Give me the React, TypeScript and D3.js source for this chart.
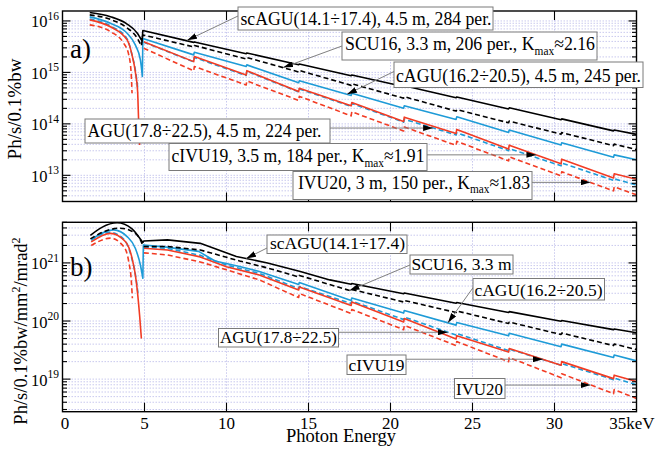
import React from 'react';
import * as d3 from 'd3';

type Pt = [number, number];

// photon energy axis (keV)
const xTicks = [0, 5, 10, 15, 20, 25, 30];
const xEndLabel = '35keV';
const xTitle = 'Photon Energy';

// ---- panel a) spectral flux, Ph/s/0.1%bw ----
const fluxDomain: [number, number] = [3.1e12, 1.56e16];
const fluxDecades = [13, 14, 15, 16];
const fluxTitle = 'Ph/s/0.1%bw';

const scaguFluxLow: Pt[] = [[1.66, 1.46e16], [2.92, 1.21e16], [3.94, 8.7e15], [4.55, 5.85e15], [4.85, 4.1e15]];
const scaguFluxHigh: Pt[] = [[4.9, 6.5e15], [8.0, 3.83e15], [8.04, 3.91e15], [11.2, 2.31e15], [11.24, 2.39e15], [14.4, 1.41e15], [14.44, 1.46e15], [17.6, 8.6e14], [17.64, 8.9e14], [20.8, 5.3e14], [20.84, 5.5e14], [24.0, 3.23e14], [24.04, 3.34e14], [27.2, 1.95e14], [27.24, 2.05e14], [30.4, 1.2e14], [30.44, 1.25e14], [33.6, 7.3e13], [33.64, 7.6e13], [35, 6.25e13]];

const scu16FluxLow: Pt[] = [[1.66, 1.31e16], [2.92, 1.07e16], [3.94, 7.3e15], [4.55, 4.68e15], [4.81, 3.27e15]];
const scu16FluxHigh: Pt[] = [[4.9, 5.35e15], [8.0, 3.13e15], [8.04, 3.34e15], [11.2, 1.83e15], [11.24, 1.95e15], [14.4, 1.02e15], [14.44, 1.09e15], [17.6, 5.6e14], [17.64, 6.0e14], [20.8, 3.16e14], [20.84, 3.37e14], [24.0, 1.77e14], [24.04, 1.89e14], [27.2, 1.05e14], [27.24, 1.13e14], [30.4, 6.3e13], [30.44, 6.75e13], [33.6, 3.78e13], [33.64, 4.04e13], [35, 3.16e13]];

const caguFluxLow: Pt[] = [[1.66, 1.2e16], [2.92, 9.0e15], [3.94, 5.77e15], [4.44, 3.42e15], [4.75, 1.75e15], [4.87, 8.3e14]];
const caguFluxHigh: Pt[] = [[4.9, 4.57e15], [8.0, 2.19e15], [8.04, 2.47e15], [11.2, 1.3e15], [11.24, 1.4e15], [14.4, 6.3e14], [14.44, 6.9e14], [17.6, 3.55e14], [17.64, 3.95e14], [20.8, 2.02e14], [20.84, 2.24e14], [24.0, 1.22e14], [24.04, 1.37e14], [27.2, 6.8e13], [27.24, 7.6e13], [30.4, 3.9e13], [30.44, 4.3e13], [33.6, 2.25e13], [33.64, 2.5e13], [35, 2.0e13]];

const aguFluxLow: Pt[] = [[1.66, 1.09e16], [2.92, 8.0e15], [3.94, 4.47e15], [4.24, 2.19e15], [4.44, 1.12e15], [4.58, 5.2e14]];
const aguFluxHigh: Pt[] = [[4.95, 3.87e15], [8.0, 1.6e15], [8.04, 1.95e15], [11.2, 8.7e14], [11.24, 1.05e15], [14.4, 4.18e14], [14.44, 4.78e14], [17.6, 2.19e14], [17.64, 2.5e14], [20.8, 1.08e14], [20.84, 1.23e14], [24.0, 6.1e13], [24.04, 6.7e13], [27.2, 3.02e13], [27.24, 3.3e13], [30.4, 1.53e13], [30.44, 1.73e13], [33.6, 8.0e12], [33.64, 8.55e12], [35, 6.5e12]];

const civu19FluxLow: Pt[] = [[1.66, 1.05e16], [2.92, 7.7e15], [3.94, 4.28e15], [4.24, 2.19e15], [4.44, 1.04e15], [4.58, 4.24e14], [4.64, 1.2e14], [4.7, 3.9e13]];
const civu19FluxHigh: Pt[] = [[4.95, 3.96e15], [8.0, 1.62e15], [8.04, 2.03e15], [11.2, 8.9e14], [11.24, 1.08e15], [14.4, 4.24e14], [14.44, 4.93e14], [17.6, 2.24e14], [17.64, 2.59e14], [20.8, 1.11e14], [20.84, 1.35e14], [24.0, 6.5e13], [24.04, 7.8e13], [27.2, 3.23e13], [27.24, 3.86e13], [30.4, 1.67e13], [30.44, 2.06e13], [33.6, 8.9e12], [33.64, 1.07e13], [35, 8.4e12]];

const ivu20FluxLow: Pt[] = [[1.66, 8.4e15], [2.92, 6.2e15], [3.73, 3.69e15], [4.04, 2.19e15], [4.18, 1.04e15], [4.24, 3.95e14]];
const ivu20FluxHigh: Pt[] = [[4.95, 2.95e15], [8.0, 1.07e15], [8.04, 1.3e15], [11.2, 5.7e14], [11.24, 6.8e14], [14.4, 2.86e14], [14.44, 3.42e14], [17.6, 1.43e14], [17.64, 1.71e14], [20.8, 7.3e13], [20.84, 8.7e13], [24.0, 3.83e13], [24.04, 4.57e13], [27.2, 1.91e13], [27.24, 2.29e13], [30.4, 9.8e12], [30.44, 1.17e13], [33.6, 5.0e12], [33.64, 5.98e12], [35, 4.18e12]];

// ---- panel b) brightness, Ph/s/0.1%bw/mm2/mrad2 ----
const brightDomain: [number, number] = [2.75e18, 5e21];
const brightDecades = [19, 20, 21];

const scaguBrightLow: Pt[] = [[1.7, 2.98e21], [2.4, 4.09e21], [3.33, 4.9e21], [4.24, 3.85e21], [4.63, 2.86e21], [4.9, 2.25e21]];
const scaguBrightHigh: Pt[] = [[4.96, 2.39e21], [6.4, 2.49e21], [8.4, 2.17e21], [10.6, 1.29e21], [12.5, 1.0e21], [14.5, 7.1e20], [16.3, 5.1e20], [17.6, 4.3e20], [17.64, 4.43e20], [20.8, 2.94e20], [20.84, 3.04e20], [24.0, 2.02e20], [24.04, 2.08e20], [27.2, 1.4e20], [27.24, 1.45e20], [30.4, 9.9e19], [30.44, 1.02e20], [33.6, 7.1e19], [33.64, 7.3e19], [35, 6.3e19]];

const scu16BrightLow: Pt[] = [[1.7, 2.59e21], [2.5, 3.42e21], [3.5, 3.96e21], [4.33, 3.38e21], [4.75, 2.49e21], [4.9, 1.99e21]];
const scu16BrightHigh: Pt[] = [[4.96, 1.92e21], [6.4, 1.92e21], [8.4, 1.67e21], [10.8, 1.08e21], [12.5, 8.2e20], [14.4, 5.74e20], [14.44, 6.09e20], [17.6, 3.29e20], [17.64, 3.49e20], [20.8, 2.13e20], [20.84, 2.26e20], [24.0, 1.4e20], [24.04, 1.49e20], [27.2, 9.06e19], [27.24, 9.6e19], [30.4, 5.85e19], [30.44, 6.2e19], [33.6, 3.78e19], [33.64, 4.01e19], [35, 3.23e19]];

const caguBrightLow: Pt[] = [[1.77, 2.54e21], [3.12, 3.71e21], [3.94, 2.84e21], [4.44, 1.79e21], [4.75, 9.2e20], [4.9, 5.44e20]];
const caguBrightHigh: Pt[] = [[4.93, 2.04e21], [6.2, 1.89e21], [8.3, 1.58e21], [9.3, 1.08e21], [10.8, 8.7e20], [12.0, 7.1e20], [14.4, 4.26e20], [14.44, 4.61e20], [17.6, 2.26e20], [17.64, 2.49e20], [20.8, 1.37e20], [20.84, 1.52e20], [24.0, 8.5e19], [24.04, 9.4e19], [27.2, 5.56e19], [27.24, 6.14e19], [30.4, 3.62e19], [30.44, 4.0e19], [33.6, 2.36e19], [33.64, 2.6e19], [35, 2.06e19]];

const aguBrightLow: Pt[] = [[1.75, 2.44e21], [2.9, 3.36e21], [3.8, 2.44e21], [4.2, 1.27e21], [4.45, 6.2e20], [4.6, 3.04e20]];
const aguBrightHigh: Pt[] = [[4.96, 1.89e21], [6.4, 1.78e21], [8.4, 1.35e21], [10.0, 9.2e20], [12.0, 6.6e20], [14.4, 3.63e20], [14.44, 3.93e20], [17.6, 2.0e20], [17.64, 2.21e20], [20.8, 1.06e20], [20.84, 1.17e20], [24.0, 5.74e19], [24.04, 6.09e19], [27.2, 3.1e19], [27.24, 3.29e19], [30.4, 1.74e19], [30.44, 1.85e19], [33.6, 9.8e18], [33.64, 1.04e19], [35, 8.0e18]];

const civu19BrightLow: Pt[] = [[1.75, 2.3e21], [2.92, 3.23e21], [3.83, 2.33e21], [4.24, 1.21e21], [4.5, 4.76e20], [4.7, 1.27e20], [4.81, 5.0e19]];
const civu19BrightHigh: Pt[] = [[4.96, 1.79e21], [6.4, 1.67e21], [8.4, 1.27e21], [10.0, 8.6e20], [12.0, 6.2e20], [14.4, 3.42e20], [14.44, 3.85e20], [17.6, 1.85e20], [17.64, 2.13e20], [20.8, 9.6e19], [20.84, 1.1e20], [24.0, 4.9e19], [24.04, 5.6e19], [27.2, 2.92e19], [27.24, 3.36e19], [30.4, 1.74e19], [30.44, 2.0e19], [33.6, 1.02e19], [33.64, 1.17e19], [35, 9.1e18]];

const ivu20BrightLow: Pt[] = [[1.75, 1.99e21], [2.92, 2.67e21], [3.73, 1.91e21], [4.04, 1.05e21], [4.2, 4.76e20], [4.26, 2.46e20]];
const ivu20BrightHigh: Pt[] = [[4.96, 1.49e21], [6.4, 1.37e21], [8.4, 1.04e21], [10.0, 7.6e20], [12.0, 5.1e20], [14.4, 2.54e20], [14.44, 2.98e20], [17.6, 1.35e20], [17.64, 1.58e20], [20.8, 7.1e19], [20.84, 8.4e19], [24.0, 3.78e19], [24.04, 4.43e19], [27.2, 2.0e19], [27.24, 2.35e19], [30.4, 1.06e19], [30.44, 1.24e19], [33.6, 5.6e18], [33.64, 6.6e18], [35, 4.65e18]];

// label texts: [text, subscript, after-subscript]
const fluxLabels: string[][] = [
  ['scAGU(14.1÷17.4), 4.5 m, 284 per.'],
  ['SCU16, 3.3 m, 206 per., K', 'max', '≈2.16'],
  ['cAGU(16.2÷20.5), 4.5 m, 245 per.'],
  ['AGU(17.8÷22.5), 4.5 m, 224 per.'],
  ['cIVU19, 3.5 m, 184 per., K', 'max', '≈1.91'],
  ['IVU20, 3 m, 150 per., K', 'max', '≈1.83'],
];
// where each arrow points, [keV, value]
const fluxTargets: Pt[] = [[7.6, 4.2e15], [13.45, 1.24e15], [17.35, 3.75e14], [22.6, 8.3e13], [28.9, 2.5e13], [32.2, 7.3e12]];

const brightLabels: string[][] = [
  ['scAGU(14.1÷17.4)'],
  ['SCU16, 3.3 m'],
  ['cAGU(16.2÷20.5)'],
  ['AGU(17.8÷22.5)'],
  ['cIVU19'],
  ['IVU20'],
];
const brightTargets: Pt[] = [[11.2, 1.19e21], [17.5, 3.35e20], [23.5, 9.3e19], [23.5, 6.4e19], [29.3, 2.2e19], [32.2, 7.9e18]];

const BLUE = '#1e9bd7';
const RED = '#f23c24';
const GRID = '#c3c3ec';
const FONT = "'Liberation Serif', 'Times New Roman', serif";

type Series = { low: Pt[]; high: Pt[]; color: string; dashed: boolean; joined: boolean };
type Note = { box: number[]; tx: number; ty: number; tw: number; from: number[]; flat?: boolean };

export default function App() {
  const x = d3.scaleLinear().domain([0, 35]).range([62.5, 636.5]);
  const yA = d3.scaleLog().domain(fluxDomain).range([201.5, 11]);
  const yB = d3.scaleLog().domain(brightDomain).range([411.7, 222.3]);

  const line = (y: d3.ScaleLogarithmic<number, number>, pts: Pt[], smooth: boolean) =>
    d3
      .line<Pt>()
      .x((d) => x(d[0]))
      .y((d) => y(d[1]))
      .curve(smooth ? d3.curveMonotoneX : d3.curveLinear)(pts) || '';

  const seriesPath = (y: d3.ScaleLogarithmic<number, number>, s: Series) => {
    const a = line(y, s.low, true);
    if (!s.joined) return a + line(y, s.high, false);
    const b = line(y, [s.low[s.low.length - 1], ...s.high], false);
    return a + b.replace(/^M/, 'L');
  };

  // drawing order: dashed blue under red
  const fluxSeries: Series[] = [
    { low: aguFluxLow, high: aguFluxHigh, color: BLUE, dashed: true, joined: false },
    { low: ivu20FluxLow, high: ivu20FluxHigh, color: RED, dashed: true, joined: false },
    { low: civu19FluxLow, high: civu19FluxHigh, color: RED, dashed: false, joined: false },
    { low: caguFluxLow, high: caguFluxHigh, color: BLUE, dashed: false, joined: true },
    { low: scu16FluxLow, high: scu16FluxHigh, color: '#000', dashed: true, joined: true },
    { low: scaguFluxLow, high: scaguFluxHigh, color: '#000', dashed: false, joined: true },
  ];
  const brightSeries: Series[] = [
    { low: aguBrightLow, high: aguBrightHigh, color: BLUE, dashed: true, joined: false },
    { low: ivu20BrightLow, high: ivu20BrightHigh, color: RED, dashed: true, joined: false },
    { low: civu19BrightLow, high: civu19BrightHigh, color: RED, dashed: false, joined: false },
    { low: caguBrightLow, high: caguBrightHigh, color: BLUE, dashed: false, joined: true },
    { low: scu16BrightLow, high: scu16BrightHigh, color: '#000', dashed: true, joined: true },
    { low: scaguBrightLow, high: scaguBrightHigh, color: '#000', dashed: false, joined: true },
  ];

  const fluxNotes: Note[] = [
    { box: [238, 7, 255, 23], tx: 240.5, ty: 25, tw: 251, from: [238, 16] },
    { box: [342, 32, 255, 28], tx: 345, ty: 50, tw: 250, from: [342, 46] },
    { box: [394, 62, 249, 25.5], tx: 396, ty: 81.5, tw: 245, from: [394, 71.5] },
    { box: [85, 119, 245, 24], tx: 87.5, ty: 136.7, tw: 234, from: [330, 0], flat: true },
    { box: [169, 143.5, 258, 27], tx: 171.5, ty: 162, tw: 253, from: [427, 0], flat: true },
    { box: [293, 171.5, 239, 28], tx: 298, ty: 188.5, tw: 232, from: [532, 0], flat: true },
  ];
  const brightNotes: Note[] = [
    { box: [267, 235, 140, 18.5], tx: 270, ty: 248.5, tw: 135, from: [267, 248] },
    { box: [410, 255, 103, 19], tx: 411.5, ty: 269.5, tw: 100, from: [410, 265] },
    { box: [473, 278.5, 131.5, 21.5], tx: 474.5, ty: 295.5, tw: 128, from: [473.5, 287] },
    { box: [218.5, 328.5, 120, 18.5], tx: 220, ty: 343.3, tw: 117, from: [338.5, 0], flat: true },
    { box: [347, 355, 59, 19.5], tx: 348.5, ty: 371, tw: 56, from: [406, 0], flat: true },
    { box: [454.5, 378.5, 50.5, 20], tx: 456, ty: 394.5, tw: 47, from: [505, 0], flat: true },
  ];

  const renderPanel = (
    id: string,
    y: d3.ScaleLogarithmic<number, number>,
    decades: number[],
    series: Series[],
    labels: string[][],
    targets: Pt[],
    notes: Note[],
    fontSize: number,
    letter: string,
    letterY: number,
  ) => {
    const [d0, d1] = y.domain();
    const [bottom, top] = y.range();
    const left = x.range()[0];
    const right = x.range()[1];
    const minors: number[] = [];
    for (let e = Math.floor(Math.log10(d0)); e <= Math.ceil(Math.log10(d1)); e++) {
      for (let m = 1; m <= 9; m++) {
        const v = m * Math.pow(10, e);
        if (v >= d0 && v <= d1) minors.push(v);
      }
    }
    return (
      <g key={id}>
        <defs>
          <clipPath id={`clip-${id}`}>
            <rect x={left} y={top} width={right - left} height={bottom - top} />
          </clipPath>
        </defs>
        {/* grid */}
        <g stroke={GRID} strokeWidth={0.9} strokeDasharray="1.5 1.5">
          {minors.map((v) => (
            <line key={`h${v}`} x1={left} x2={right} y1={y(v)} y2={y(v)} />
          ))}
          {xTicks.slice(1).map((t) => (
            <line key={`v${t}`} x1={x(t)} x2={x(t)} y1={top} y2={bottom} />
          ))}
        </g>
        {/* curves */}
        <g clipPath={`url(#clip-${id})`} fill="none" strokeWidth={1.6} strokeLinejoin="round">
          {series.map((s, i) => (
            <path key={i} d={seriesPath(y, s)} stroke={s.color} strokeDasharray={s.dashed ? '5 3' : undefined} />
          ))}
        </g>
        {/* ticks */}
        <g stroke="#000" strokeWidth={1.1}>
          {minors.map((v) => {
            const major = decades.some((d) => Math.abs(Math.log10(v) - d) < 1e-6);
            const len = major ? 8 : 4.5;
            return (
              <g key={`t${v}`}>
                <line x1={left} x2={left + len} y1={y(v)} y2={y(v)} />
                <line x1={right} x2={right - len} y1={y(v)} y2={y(v)} />
              </g>
            );
          })}
          {xTicks.slice(1).map((t) => (
            <g key={`xt${t}`}>
              <line x1={x(t)} x2={x(t)} y1={bottom} y2={bottom - 9} />
              <line x1={x(t)} x2={x(t)} y1={top} y2={top + 9} />
            </g>
          ))}
        </g>
        <rect x={left} y={top} width={right - left} height={bottom - top} fill="none" stroke="#000" strokeWidth={1.4} />
        {/* y tick labels */}
        {decades.map((d) => (
          <text key={`yl${d}`} x={59} y={y(Math.pow(10, d)) + 6.5} textAnchor="end" fontSize={16.5} fontFamily={FONT}>
            10
            <tspan dy={-7.5} fontSize={11.5}>
              {d}
            </tspan>
          </text>
        ))}
        <text x={70} y={letterY} fontSize={27} fontFamily={FONT}>
          {letter}
        </text>
        {/* annotations */}
        {notes.map((n, i) => {
          const [bx, by, bw, bh] = n.box;
          const tx = x(targets[i][0]);
          const ty = y(targets[i][1]);
          const fy = n.flat ? ty : n.from[1];
          const parts = labels[i];
          return (
            <g key={`n${i}`}>
              <line x1={n.from[0]} y1={fy} x2={tx} y2={ty} stroke="#808080" strokeWidth={1} markerEnd="url(#ah)" />
              <rect x={bx} y={by} width={bw} height={bh} fill="#fff" stroke="#7a7a7a" strokeWidth={1} />
              <text
                x={n.tx}
                y={n.ty}
                fontSize={fontSize}
                fontFamily={FONT}
                textLength={n.tw}
                lengthAdjust="spacingAndGlyphs"
              >
                {parts[0]}
                {parts[1] && (
                  <tspan dy={4.5} fontSize={fontSize * 0.64}>
                    {parts[1]}
                  </tspan>
                )}
                {parts[2] && <tspan dy={-4.5}>{parts[2]}</tspan>}
              </text>
            </g>
          );
        })}
      </g>
    );
  };

  return (
    <svg width={656} height={449} style={{ position: 'absolute', left: 0, top: 0, background: '#fff' }}>
      <defs>
        <marker id="ah" viewBox="0 0 10 6" refX="10" refY="3" markerWidth="10" markerHeight="6" orient="auto" markerUnits="userSpaceOnUse">
          <path d="M0,0 L10,3 L0,6 z" fill="#000" />
        </marker>
      </defs>
      <rect width={656} height={449} fill="#fff" />
      {renderPanel('a', yA, fluxDecades, fluxSeries, fluxLabels, fluxTargets, fluxNotes, 19, 'a)', 58)}
      {renderPanel('b', yB, brightDecades, brightSeries, brightLabels, brightTargets, brightNotes, 17.5, 'b)', 276)}
      {/* x tick labels (bottom panel only) */}
      {xTicks.map((t) => (
        <text key={t} x={x(t) + (t === 0 ? 2.5 : 0)} y={429} textAnchor="middle" fontSize={17} fontFamily={FONT}>
          {t}
        </text>
      ))}
      <text x={632} y={429} textAnchor="middle" fontSize={17} fontFamily={FONT}>
        {xEndLabel}
      </text>
      <text x={341} y={442} textAnchor="middle" fontSize={18.5} fontFamily={FONT}>
        {xTitle}
      </text>
      <text transform="translate(21,109) rotate(-90)" textAnchor="middle" fontSize={19} fontFamily={FONT}>
        {fluxTitle}
      </text>
      <text transform="translate(26.5,331) rotate(-90)" textAnchor="middle" fontSize={18.5} fontFamily={FONT}>
        Ph/s/0.1%bw/mm
        <tspan dy={-7} fontSize={12}>
          2
        </tspan>
        <tspan dy={7}>/mrad</tspan>
        <tspan dy={-7} fontSize={12}>
          2
        </tspan>
      </text>
    </svg>
  );
}
